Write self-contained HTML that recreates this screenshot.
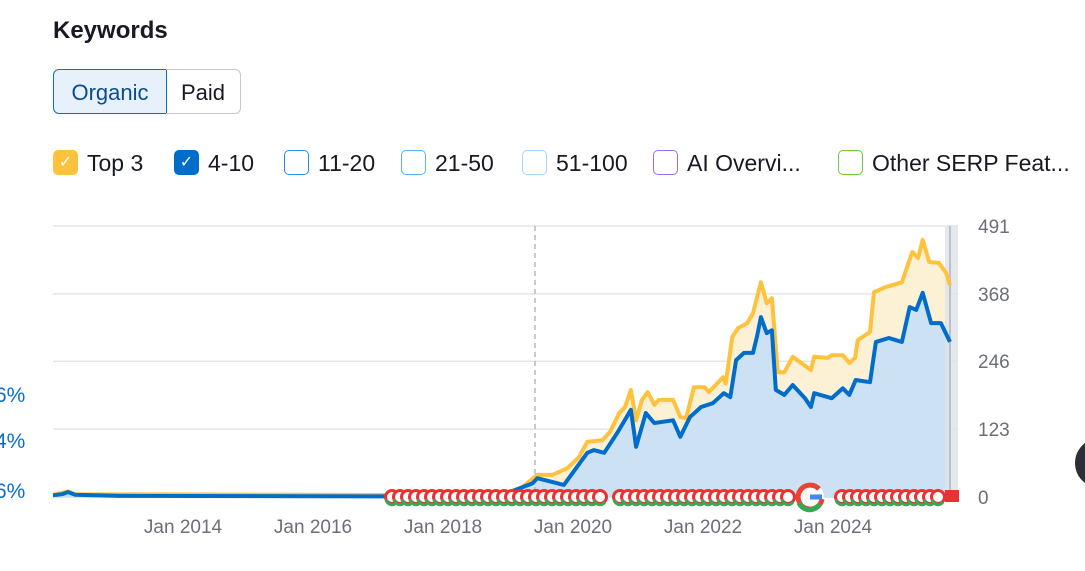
<!DOCTYPE html>
<html><head><meta charset="utf-8"><style>
body{margin:0;width:1085px;height:571px;overflow:hidden;background:#fff;font-family:"Liberation Sans",sans-serif;color:#171a22;position:relative}
.abs{position:absolute}
.title{left:53px;top:17px;font-size:24px;font-weight:bold}
.btn{top:69px;height:45px;line-height:45px;font-size:22px;box-sizing:border-box;text-align:center}
.leg{top:149px;height:28px;font-size:23px;line-height:28px;white-space:nowrap}
.box{display:inline-block;width:25px;height:25px;border-radius:5px;box-sizing:border-box;vertical-align:middle;margin-right:9px;position:relative;top:-2px}
</style></head><body>
<div class="abs title">Keywords</div>
<div class="abs btn" style="left:53px;width:114px;background:#e6f1fb;border:1px solid #0a6ecf;border-radius:6px 0 0 6px;color:#0a4c8f">Organic</div>
<div class="abs btn" style="left:166px;width:75px;border:1px solid #c4c7cf;border-left:none;border-radius:0 6px 6px 0">Paid</div>

<div class="abs leg" style="left:53px"><span class="box" style="background:#ffc23d;color:#fff;font-size:16px;text-align:center;line-height:25px">✓</span>Top 3</div>
<div class="abs leg" style="left:174px"><span class="box" style="background:#006dca;color:#fff;font-size:16px;text-align:center;line-height:25px">✓</span>4-10</div>
<div class="abs leg" style="left:284px"><span class="box" style="border:1.5px solid #2a8cf0"></span>11-20</div>
<div class="abs leg" style="left:401px"><span class="box" style="border:1.5px solid #5fb0f5"></span>21-50</div>
<div class="abs leg" style="left:522px"><span class="box" style="border:1.5px solid #a8d4fa"></span>51-100</div>
<div class="abs leg" style="left:653px"><span class="box" style="border:1.5px solid #9d6df0"></span>AI Overvi...</div>
<div class="abs leg" style="left:838px"><span class="box" style="border:1.5px solid #6ccb3f"></span>Other SERP Feat...</div>

<div class="abs" style="left:-5px;top:384px;font-size:21px;color:#0a6ecf">6%</div>
<div class="abs" style="left:-5px;top:430px;font-size:21px;color:#0a6ecf">4%</div>
<div class="abs" style="left:-5px;top:480px;font-size:21px;color:#0a6ecf">6%</div>
<div class="abs" style="left:1075px;top:438px;width:50px;height:50px;border-radius:25px;background:#2b2e36"></div>

<svg class="abs" style="left:0;top:0" width="1085" height="571" id="chart"></svg>
<script>
const yTicks=[0,123,246,368,491];
const xTickYears=[2014,2016,2018,2020,2022,2024];
const xTickLabels=["Jan 2014","Jan 2016","Jan 2018","Jan 2020","Jan 2022","Jan 2024"];
const blueDates=[2012.00,2012.14,2012.23,2012.34,2013.03,2017.34,2018.88,2019.38,2019.45,2019.86,2020.22,2020.32,2020.48,2020.68,2020.89,2020.97,2021.12,2021.25,2021.54,2021.65,2021.80,2021.97,2022.15,2022.32,2022.42,2022.51,2022.63,2022.77,2022.83,2022.89,2022.98,2023.06,2023.12,2023.25,2023.38,2023.57,2023.66,2023.71,2023.98,2024.15,2024.25,2024.35,2024.57,2024.66,2024.86,2025.06,2025.18,2025.28,2025.38,2025.51,2025.66,2025.80];
const blueValues=[3,5,9,4,2,1,2,25,34,22,80,85,80,116,158,91,152,134,139,109,145,163,170,188,181,248,261,261,290,326,297,302,194,185,203,179,163,188,179,197,185,212,208,281,288,281,344,339,370,315,315,281];
const totalDates=[2012.00,2012.23,2012.34,2018.88,2019.22,2019.45,2019.68,2019.91,2020.09,2020.22,2020.45,2020.57,2020.71,2020.80,2020.89,2020.97,2021.06,2021.15,2021.25,2021.32,2021.54,2021.65,2021.74,2021.86,2022.03,2022.09,2022.22,2022.31,2022.35,2022.45,2022.54,2022.68,2022.77,2022.89,2022.98,2023.06,2023.15,2023.25,2023.38,2023.51,2023.66,2023.71,2023.92,2023.98,2024.15,2024.25,2024.34,2024.38,2024.57,2024.63,2024.80,2025.06,2025.22,2025.31,2025.38,2025.48,2025.63,2025.74,2025.80];
const totalValues=[4,10,5,3,18,40,40,52,72,100,103,118,152,163,194,139,176,190,167,176,176,145,143,199,199,190,206,217,206,290,306,315,333,389,351,360,226,226,254,243,230,254,252,257,257,243,252,284,299,371,380,389,444,433,466,426,424,406,384];

const svg=document.getElementById('chart');const NS='http://www.w3.org/2000/svg';
const X0=53,X1=950,Y0=497,Y1=226;
const xs=d=>X0+(d-2012)*65;
const ys=v=>Y0-(v/491)*(Y0-Y1);
function mk(t,a,p){const e=document.createElementNS(NS,t);for(const k in a)e.setAttribute(k,a[k]);(p||svg).appendChild(e);return e;}
yTicks.forEach((v,i)=>{
 const l=mk('line',{x1:X0,x2:958,y1:ys(v),y2:ys(v),stroke:i==0?'#d6d8dd':'#e3e5ea','stroke-width':1.5});
 
 
 const t=mk('text',{x:978,y:ys(v)+7,'font-size':19,fill:'#6c6e79'});t.textContent=v;
 
 
});
xTickYears.forEach((yr,i)=>{
 const t=mk('text',{x:xs(yr),y:533,'font-size':19,fill:'#6c6e79','text-anchor':'middle'});t.textContent=xTickLabels[i];
 
 
});
const pts=(D,V)=>D.map((d,i)=>xs(d).toFixed(1)+','+ys(V[i]).toFixed(1));
const tp=pts(totalDates,totalValues),bp=pts(blueDates,blueValues);
const yFill=mk('polygon',{points:tp.concat(bp.slice().reverse()).join(' '),fill:'#fdf1d5'});


const bFill=mk('polygon',{points:bp.join(' ')+' '+xs(blueDates[blueDates.length-1])+','+Y0+' '+X0+','+Y0,fill:'#cde1f4'});


const band=mk('rect',{x:945,y:Y1,width:13,height:Y0-Y1,fill:'#dfe4e8',opacity:0.8});


mk('line',{x1:950,x2:950,y1:Y1,y2:Y0,stroke:'#b8c2cc','stroke-width':2});
const dash=mk('line',{x1:535,x2:535,y1:Y1,y2:Y0,stroke:'#b5b8bf','stroke-width':1.5,'stroke-dasharray':'5,4'});


const yl=mk('polyline',{points:tp.join(' '),fill:'none',stroke:'#ffc23d','stroke-width':4,'stroke-linejoin':'round'});


const bl=mk('polyline',{points:bp.join(' '),fill:'none',stroke:'#006dca','stroke-width':4,'stroke-linejoin':'round'});


const g=mk('g',{});


function mark(x){
 mk('circle',{cx:x,cy:497,r:6.5,fill:'#fff',stroke:'#e8322f','stroke-width':3},g);
 mk('path',{d:`M${x-6} ${499} A6 6 0 0 0 ${x+5} ${502}`,stroke:'#34a853','stroke-width':3,fill:'none'},g);
}
[[392,600,8],[620,790,8],[842,945,8]].forEach(r=>{for(let x=r[0];x<=r[1];x+=r[2])mark(x);});
mk('rect',{x:945,y:490,width:14,height:12,fill:'#e8322f'},g);
mk('circle',{cx:810,cy:497,r:14,fill:'#fff'},g);
mk('path',{d:'M819 489 A12 12 0 1 0 822 499',fill:'none',stroke:'#ea4335','stroke-width':5},g);
mk('path',{d:'M799 503 A12 12 0 0 0 820 504',fill:'none',stroke:'#34a853','stroke-width':5},g);
mk('line',{x1:810,x2:822,y1:497,y2:497,stroke:'#4285f4','stroke-width':5},g);
</script>
</body></html>
